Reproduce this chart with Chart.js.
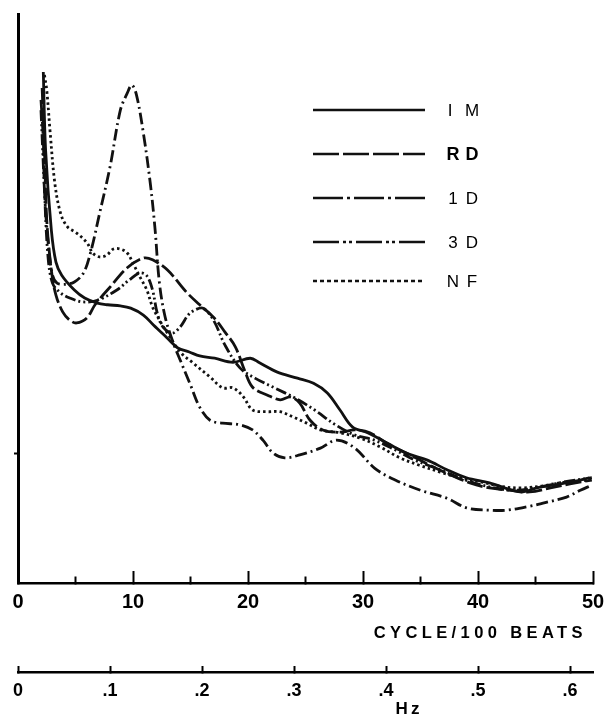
<!DOCTYPE html>
<html><head><meta charset="utf-8">
<script src="https://cdn.jsdelivr.net/npm/chart.js@4/dist/chart.umd.min.js"></script>
<style>html,body{margin:0;padding:0;background:#fff}#wrap{width:611px;height:717px;position:relative}</style>
</head><body><div id="wrap"><canvas id="c"></canvas></div>
<script>
// ---- data (x: cycles / 100 beats, y: relative spectral power, arbitrary units) ----
const seriesNames = ['IM', 'RD', '1D', '3D', 'NF'];

const imX = [2.2,2.4,2.9,3.3,3.8,4.9,5.8,6.9,7.8,8.9,9.8,10.9,11.8,12.9,13.9,14.9,15.8,17.1,18.7,20.2,21.0,22.5,24.3,25.7,26.9,28.0,29.1,30.4,32.1,33.8,35.6,37.3,39.0,41.0,43.0,43.9,45.1,46.5,48.3,49.7];
const imY = [89.8,76.1,62.0,56.4,54.1,51.5,50.1,49.2,48.9,48.7,48.3,47.1,45.3,43.2,41.3,40.6,39.9,39.5,38.8,39.5,38.7,37.1,36.0,35.1,33.4,30.4,27.4,26.4,24.6,22.8,21.6,19.9,18.5,17.6,16.3,16.0,16.7,17.2,17.8,18.5];

const rdX = [2.1,2.3,2.5,2.9,3.3,3.9,4.5,5.1,6.0,6.7,8.0,9.5,10.9,11.7,13.0,14.7,15.8,17.0,18.0,18.9,19.7,20.4,21.7,22.8,23.7,24.5,25.4,26.5,28.0,29.3,30.6,32.3,34.1,35.8,37.6,39.3,41.0,42.8,44.5,46.3,48.0,49.9];
const rdY = [87.0,76.1,63.8,55.0,50.6,47.6,46.2,45.7,46.6,48.9,52.0,55.4,57.1,56.8,55.0,51.0,48.9,46.7,44.1,41.5,37.4,34.4,33.0,32.2,32.7,31.6,28.6,26.9,26.5,26.9,26.4,24.3,22.5,20.7,19.0,17.6,16.7,16.3,16.0,16.7,17.4,18.1];

const d1X = [2.0,2.2,2.3,2.6,3.0,3.4,4.1,4.9,5.7,6.3,7.1,8.0,8.9,9.5,9.9,10.3,10.9,11.5,11.9,12.3,12.8,13.5,14.1,15.0,15.8,16.7,17.8,19.3,20.4,21.3,22.2,23.2,24.5,26.3,27.7,29.3,31.0,32.8,35.0,37.3,39.0,41.0,42.5,44.5,46.0,47.7,48.9,49.9];
const d1Y = [84.9,77.9,69.1,60.3,54.1,52.7,52.5,52.9,54.5,58.0,65.0,73.1,83.1,86.1,87.5,85.8,79.1,70.3,62.6,52.7,46.7,42.2,39.2,34.8,30.9,28.6,28.1,27.8,26.9,25.1,22.8,22.0,22.5,23.7,25.1,23.7,20.2,18.1,16.3,14.9,13.2,12.8,12.8,13.5,14.2,15.1,16.3,17.2];

const d3X = [2.0,2.3,2.6,3.0,3.7,4.5,5.6,6.9,8.6,9.7,10.6,11.2,11.7,12.1,12.6,13.4,14.1,14.8,15.4,16.1,17.0,18.0,19.3,20.6,22.3,24.1,25.8,27.6,29.3,31.0,32.8,34.5,36.7,38.9,41.0,43.2,45.4,47.6,49.9];
const d3Y = [83.1,69.1,57.6,52.7,51.0,50.1,49.4,49.7,51.5,53.3,54.5,54.0,51.5,47.5,45.0,43.9,45.0,47.1,48.0,48.3,46.2,41.8,37.8,36.0,34.3,32.5,30.4,27.8,26.0,25.1,23.4,21.6,19.9,18.1,16.9,16.3,16.9,17.8,18.5];

const nfX = [2.3,2.5,2.8,3.2,3.7,4.3,5.1,6.0,6.5,7.1,7.7,8.3,8.9,9.5,10.0,10.6,11.2,11.7,12.3,13.0,14.1,15.2,16.7,17.8,18.7,19.6,20.4,21.7,22.8,23.9,25.1,26.3,28.0,29.7,31.5,33.2,34.9,36.7,38.4,40.2,41.9,43.7,45.4,47.1,49.7];
const nfY = [89.3,86.6,79.1,70.3,65.0,62.6,61.5,59.8,58.0,57.3,57.6,58.7,58.7,58.0,56.2,53.8,51.5,48.5,46.2,43.9,40.6,38.7,36.2,34.3,34.3,32.7,30.4,30.1,30.1,29.2,28.1,26.9,26.4,25.5,23.9,22.0,20.7,19.5,18.5,17.8,17.0,16.7,17.0,17.6,18.1];

const xTickStep = 5;
const xLabelEvery = 10;
const hzTickLabels = ['0', '.1', '.2', '.3', '.4', '.5', '.6'];
const yMarkValue = 22.8;
const xTitle = 'CYCLE/100 BEATS';
const hzTitle = 'Hz';

// ---- styles ----
const FONT = '"Liberation Sans", Arial, Helvetica, sans-serif';
const dashes = { 'IM': [], 'RD': [16, 4], '1D': [12, 4, 2, 4], '3D': [11, 3, 2, 3, 2, 3], 'NF': [2.5, 3] };
const legendDashes = { 'IM': [], 'RD': [26, 4], '1D': [30, 4, 3, 4], '3D': [26, 4, 3, 3, 3, 4], 'NF': [4, 3] };

function zip(xs, ys) { const n = Math.min(xs.length, ys.length); const out = []; for (let i = 0; i < n; i++) out.push({ x: xs[i], y: ys[i] }); return out; }
const seriesData = { 'IM': zip(imX, imY), 'RD': zip(rdX, rdY), '1D': zip(d1X, d1Y), '3D': zip(d3X, d3Y), 'NF': zip(nfX, nfY) };

const datasets = seriesNames.map(n => ({
  label: n,
  data: seriesData[n],
  borderColor: '#111',
  borderWidth: 2.8,
  borderDash: dashes[n],
  pointRadius: 0,
  fill: false,
  tension: 0.35,
  borderCapStyle: 'butt'
}));

const legendPlugin = {
  id: 'handLegend',
  afterDatasetsDraw(chart) {
    const ctx = chart.ctx;
    const rows = [110, 154, 198, 242, 281];
    ctx.save();
    seriesNames.forEach((n, i) => {
      const y = rows[i];
      ctx.beginPath();
      ctx.setLineDash(legendDashes[n]);
      ctx.lineWidth = 2.6;
      ctx.strokeStyle = '#111';
      ctx.moveTo(313, y); ctx.lineTo(425, y);
      ctx.stroke();
      ctx.setLineDash([]);
      ctx.fillStyle = '#000';
      ctx.font = (n === 'RD' ? 'bold 18px ' : '17px ') + FONT;
      ctx.textAlign = 'center';
      ctx.textBaseline = 'middle';
      const chars = n.split('');
      ctx.fillText(chars[0], n === 'IM' ? 450 : 453, y + 1);
      ctx.fillText(chars[1], 472, y + 1);
    });
    ctx.restore();
  }
};

const titlePlugin = {
  id: 'axisTitles',
  afterDraw(chart) {
    const ctx = chart.ctx;
    const xs = chart.scales.x, hz = chart.scales.hz;
    ctx.save();
    ctx.fillStyle = '#000';
    ctx.font = 'bold 16.5px ' + FONT;
    ctx.letterSpacing = '4.4px';
    ctx.textAlign = 'right';
    ctx.textBaseline = 'middle';
    ctx.fillText(xTitle, xs.right - 6, xs.top + 50);
    ctx.font = 'bold 17px ' + FONT;
    ctx.letterSpacing = '3px';
    ctx.textAlign = 'center';
    ctx.fillText(hzTitle, hz.getPixelForValue(0.425), hz.bottom - 8);
    ctx.restore();
  }
};

new Chart(document.getElementById('c'), {
  type: 'line',
  data: { datasets },
  options: {
    responsive: true,
    maintainAspectRatio: false,
    animation: false,
    events: [],
    layout: { padding: { left: 12, top: 14, right: 18, bottom: 0 } },
    plugins: { legend: { display: false }, tooltip: { enabled: false } },
    scales: {
      x: {
        type: 'linear', position: 'bottom', weight: 0,
        min: 0, max: 50,
        border: { display: true, color: '#000', width: 2.5 },
        grid: {
          drawOnChartArea: false, drawTicks: true, tickLength: -12, tickColor: '#000', tickWidth: 2,
          tickBorderDash: c => (c.tick && c.tick.value % xLabelEvery !== 0 ? [8, 40] : [])
        },
        ticks: {
          stepSize: xTickStep, includeBounds: false, maxRotation: 0, autoSkip: false,
          padding: 19, color: '#000', font: { family: FONT, size: 20, weight: 'bold' },
          callback: v => (v % xLabelEvery === 0 ? String(v) : '')
        },
        afterFit: s => { s.height = 89; s.paddingLeft = 0; s.paddingRight = 0; }
      },
      hz: {
        type: 'linear', position: 'bottom', weight: 1,
        min: 0, max: 0.625,
        border: { display: true, color: '#000', width: 2.5 },
        grid: { drawOnChartArea: false, drawTicks: true, tickLength: -6, tickColor: '#000', tickWidth: 2 },
        ticks: {
          stepSize: 0.1, includeBounds: false, maxRotation: 0, autoSkip: false,
          padding: 14, color: '#000', font: { family: FONT, size: 18, weight: 'bold' },
          callback: v => hzTickLabels[Math.round(v * 10)] ?? ''
        },
        afterFit: s => { s.height = 45; s.paddingLeft = 0; s.paddingRight = 0; }
      },
      y: {
        type: 'linear', position: 'left', min: 0, max: 100,
        border: { display: true, color: '#000', width: 3 },
        grid: { drawOnChartArea: false, drawTicks: true, tickLength: 4, tickColor: '#000', tickWidth: 2 },
        ticks: { display: false, padding: 0 },
        afterBuildTicks: s => { s.ticks = [{ value: yMarkValue }]; },
        afterFit: s => { s.width = 6; s.paddingTop = 0; s.paddingBottom = 0; }
      }
    }
  },
  plugins: [legendPlugin, titlePlugin]
});
</script>
</body></html>
